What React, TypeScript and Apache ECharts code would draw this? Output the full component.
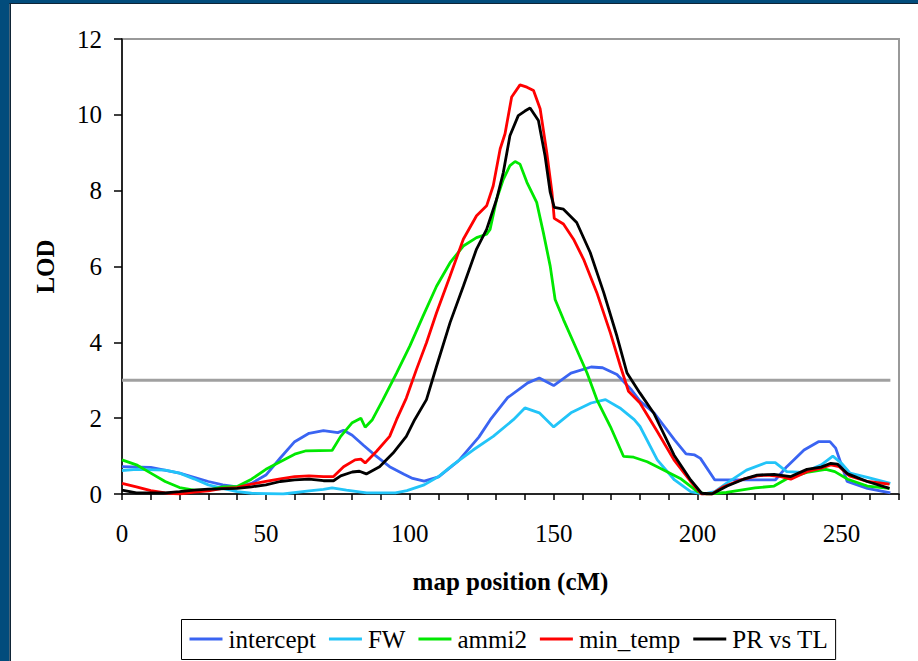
import React, { useEffect, useRef } from "react";
import * as echarts from "echarts";

const FONT = "Liberation Serif";

const seriesNames = ["intercept", "FW", "ammi2", "min_temp", "PR vs TL"];
const seriesColors = ["#3a64f2", "#22c4f8", "#00e800", "#ff0000", "#000000"];

const xTicks = [0, 50, 100, 150, 200, 250];
const threshold = 3;
const thresholdPos = [0, 267];

const interceptPos = [0, 10, 20, 30, 35, 40, 45, 50, 55, 60, 65, 70, 75, 77, 80, 84, 88, 93, 98, 101, 105, 110, 117, 124, 128, 131, 134, 141, 145, 150, 156, 163, 167, 172, 177, 180, 185, 192, 196, 199, 201, 206, 227, 231, 237, 242, 246, 248, 252, 259, 267];
const interceptLod = [0.72, 0.70, 0.55, 0.33, 0.24, 0.19, 0.28, 0.50, 0.95, 1.38, 1.60, 1.67, 1.62, 1.68, 1.55, 1.28, 1.02, 0.72, 0.52, 0.41, 0.34, 0.45, 0.88, 1.50, 1.96, 2.25, 2.54, 2.93, 3.06, 2.86, 3.19, 3.35, 3.33, 3.15, 2.75, 2.45, 2.13, 1.43, 1.06, 1.03, 0.94, 0.37, 0.37, 0.72, 1.16, 1.38, 1.38, 1.21, 0.33, 0.15, 0.03];

const fwPos = [0, 5, 15, 20, 25, 30, 35, 40, 45, 56, 65, 70, 73, 78, 85, 95, 99, 105, 110, 115, 122, 129, 136, 140, 145, 150, 156, 163, 168, 173, 178, 180, 186, 192, 197.6, 202, 206, 210, 217, 224, 227, 231, 237, 243, 247, 250, 253, 259, 267];
const fwLod = [0.62, 0.65, 0.63, 0.55, 0.40, 0.24, 0.15, 0.06, 0.02, 0.0, 0.08, 0.12, 0.16, 0.10, 0.03, 0.03, 0.09, 0.24, 0.46, 0.77, 1.16, 1.52, 1.96, 2.27, 2.14, 1.77, 2.14, 2.40, 2.49, 2.27, 1.96, 1.78, 0.90, 0.37, 0.06, 0.0, 0.06, 0.28, 0.63, 0.83, 0.83, 0.59, 0.57, 0.77, 1.0, 0.81, 0.55, 0.44, 0.28];

const ammiPos = [0, 5, 10, 15, 20, 25, 30, 35, 40, 45, 50, 55, 60, 64, 73, 76, 80, 83, 84.5, 87, 90.7, 95.4, 100, 104.6, 109.3, 114, 118.6, 123.2, 126.7, 127.9, 130.2, 132.5, 134.8, 136.6, 138.3, 140.7, 144.1, 146.4, 148.8, 150.5, 153.4, 158, 161.6, 165, 169.7, 174.3, 177.8, 182.5, 187, 194, 200, 203, 210, 215, 220, 226.6, 231.2, 238, 244.6, 247.7, 252.2, 259, 266.7];
const ammiLod = [0.90, 0.77, 0.55, 0.33, 0.17, 0.10, 0.10, 0.19, 0.20, 0.39, 0.65, 0.85, 1.05, 1.14, 1.15, 1.52, 1.88, 2.0, 1.76, 1.96, 2.49, 3.19, 3.90, 4.69, 5.48, 6.10, 6.54, 6.76, 6.85, 6.98, 7.78, 8.30, 8.66, 8.77, 8.70, 8.22, 7.69, 6.90, 6.01, 5.13, 4.60, 3.81, 3.19, 2.49, 1.78, 0.99, 0.97, 0.85, 0.68, 0.41, 0.06, 0.0, 0.04, 0.10, 0.16, 0.21, 0.41, 0.57, 0.65, 0.59, 0.39, 0.21, 0.15];

const minTempPos = [0, 5, 10, 15, 20, 25, 30, 35, 40, 45, 50, 55, 60, 65, 70, 73.5, 77, 81, 83, 84.5, 88.4, 93, 95.4, 98.8, 102.3, 105.8, 109.3, 114, 118.6, 123.2, 126.7, 129, 131.4, 133.1, 135.4, 138.3, 140.7, 143, 145.3, 147.6, 149.4, 150.2, 153.4, 156.9, 160.4, 165, 169.7, 173.2, 176, 180, 186, 191.8, 197.6, 201.4, 205, 209, 215, 220.7, 224.3, 229, 232.4, 238, 242.9, 246.3, 249.2, 252.7, 259, 266.7];
const minTempLod = [0.28, 0.19, 0.09, 0.03, 0.0, 0.05, 0.08, 0.15, 0.17, 0.26, 0.33, 0.40, 0.46, 0.48, 0.46, 0.46, 0.72, 0.90, 0.92, 0.82, 1.12, 1.52, 1.96, 2.53, 3.28, 3.99, 4.78, 5.75, 6.72, 7.34, 7.60, 8.13, 9.10, 9.50, 10.47, 10.79, 10.73, 10.64, 10.16, 9.01, 7.96, 7.27, 7.12, 6.72, 6.19, 5.31, 4.25, 3.37, 2.71, 2.40, 1.65, 0.90, 0.33, 0.0, 0.0, 0.19, 0.37, 0.48, 0.50, 0.46, 0.39, 0.59, 0.68, 0.77, 0.72, 0.48, 0.33, 0.26];

const prPos = [0, 5, 15, 20, 25, 30, 40, 45, 50, 55, 60, 65, 70, 73.5, 76, 80, 82.5, 84.9, 89.5, 94.2, 98.8, 101.7, 105.8, 109.3, 114, 118.6, 123.2, 126.7, 130.2, 132.5, 134.8, 137.7, 140, 141.8, 144.7, 147, 148.8, 150.2, 153.4, 158, 162.7, 167.4, 172, 175.5, 180, 184.8, 191.8, 197.6, 201.4, 205, 210.3, 216, 220.7, 226.6, 232.4, 238, 242.9, 246.3, 248.6, 252.2, 259, 266.7];
const prLod = [0.10, 0.03, 0.03, 0.06, 0.10, 0.13, 0.15, 0.19, 0.24, 0.33, 0.37, 0.39, 0.35, 0.35, 0.48, 0.58, 0.60, 0.53, 0.72, 1.08, 1.52, 1.96, 2.49, 3.37, 4.52, 5.48, 6.46, 6.98, 7.78, 8.48, 9.45, 9.98, 10.10, 10.18, 9.85, 8.92, 7.96, 7.56, 7.51, 7.16, 6.37, 5.31, 4.16, 3.19, 2.66, 2.13, 1.03, 0.37, 0.02, 0.0, 0.21, 0.39, 0.50, 0.52, 0.46, 0.65, 0.71, 0.81, 0.79, 0.53, 0.33, 0.15];

const allPos = [interceptPos, fwPos, ammiPos, minTempPos, prPos];
const allLod = [interceptLod, fwLod, ammiLod, minTempLod, prLod];

const pair = (xs: number[], ys: number[]) => xs.map((x, i) => [x, ys[i]]);

export default function App() {
  const ref = useRef<HTMLDivElement>(null);
  useEffect(() => {
    if (!ref.current) return;
    const chart = echarts.init(ref.current, null, { renderer: "svg" });
    const blue = "#024c7c";
    const dark = "#0f2436";
    const lines = seriesNames.map((name, i) => ({
      name,
      type: "line",
      data: pair(allPos[i], allLod[i]),
      showSymbol: false,
      symbol: "none",
      z: 3 + i,
      lineStyle: { color: seriesColors[i], width: 2.8 },
      itemStyle: { color: seriesColors[i] },
    }));

    // Legend box drawn manually.
    const legendLeft = 181;
    const legendTop = 619;
    const legendH = 40;
    const iconW = 33;
    const iconTextGap = 6;
    const itemGap = 13;
    const measure = (t: string) =>
      (echarts.format as any).getTextRect
        ? (echarts.format as any).getTextRect(t, "25px " + FONT).width
        : t.length * 11;
    const legendItems: any[] = [];
    let cx = legendLeft + 8.5;
    const cy = legendTop + legendH / 2;
    seriesNames.forEach((name, i) => {
      legendItems.push({
        type: "line",
        shape: { x1: cx, y1: cy, x2: cx + iconW, y2: cy },
        style: { stroke: seriesColors[i], lineWidth: 3 },
      });
      const tx = cx + iconW + iconTextGap;
      legendItems.push({
        type: "text",
        x: tx,
        y: cy,
        style: {
          text: name,
          fontSize: 25,
          fontFamily: FONT,
          fill: "#000",
          verticalAlign: "middle",
          align: "left",
        },
      });
      cx = tx + measure(name) + itemGap;
    });
    const legendW = cx - itemGap + 7 - legendLeft;

    chart.setOption({
      animation: false,
      backgroundColor: "#ffffff",
      textStyle: { fontFamily: FONT },
      graphic: [
        { type: "rect", shape: { x: 0, y: 0, width: 918, height: 3 }, style: { fill: blue } },
        { type: "rect", shape: { x: 0, y: 3, width: 918, height: 1 }, style: { fill: dark } },
        { type: "rect", shape: { x: 0, y: 0, width: 9.5, height: 661 }, style: { fill: blue } },
        { type: "rect", shape: { x: 9.5, y: 3, width: 1.5, height: 658 }, style: { fill: dark } },
        {
          type: "rect",
          shape: { x: legendLeft + 0.5, y: legendTop + 0.5, width: legendW, height: legendH },
          style: { fill: "#fff", stroke: "#000", lineWidth: 1 },
        },
        ...legendItems,
      ],
      grid: {
        left: 122,
        top: 39,
        right: 19,
        bottom: 167,
        show: true,
        borderColor: "#999999",
        borderWidth: 2,
        backgroundColor: "transparent",
      },
      legend: { show: false, data: seriesNames },
      xAxis: {
        type: "value",
        min: 0,
        max: 270,
        interval: 10,
        name: "map position (cM)",
        nameLocation: "middle",
        nameGap: 75,
        nameTextStyle: { fontSize: 25, fontWeight: "bold", color: "#000", fontFamily: FONT },
        axisLine: { show: true, onZero: false, lineStyle: { color: "#000", width: 1.5 } },
        axisTick: { show: true, inside: false, length: 6, interval: 0, lineStyle: { color: "#000", width: 1.5 } },
        axisLabel: {
          interval: 0,
          margin: 27,
          fontSize: 25,
          color: "#000",
          fontFamily: FONT,
          formatter: (v: number) => (xTicks.includes(v) ? String(v) : ""),
        },
        splitLine: { show: false },
      },
      yAxis: {
        type: "value",
        min: 0,
        max: 12,
        interval: 2,
        name: "LOD",
        nameLocation: "middle",
        nameGap: 64,
        nameTextStyle: { fontSize: 25, fontWeight: "bold", color: "#000", fontFamily: FONT },
        axisLine: { show: true, onZero: false, lineStyle: { color: "#000", width: 1.5 } },
        axisTick: { show: true, inside: false, length: 8, lineStyle: { color: "#000", width: 1.5 } },
        axisLabel: { margin: 20, fontSize: 25, color: "#000", fontFamily: FONT },
        splitLine: { show: false },
      },
      series: [
        {
          name: "threshold",
          type: "line",
          data: thresholdPos.map((x) => [x, threshold]),
          showSymbol: false,
          symbol: "none",
          z: 2,
          lineStyle: { color: "#a0a0a0", width: 3 },
        },
        ...lines,
      ],
    });
    return () => chart.dispose();
  }, []);
  return (
    <div
      ref={ref}
      style={{ position: "fixed", left: 0, top: 0, width: 918, height: 661 }}
    />
  );
}
